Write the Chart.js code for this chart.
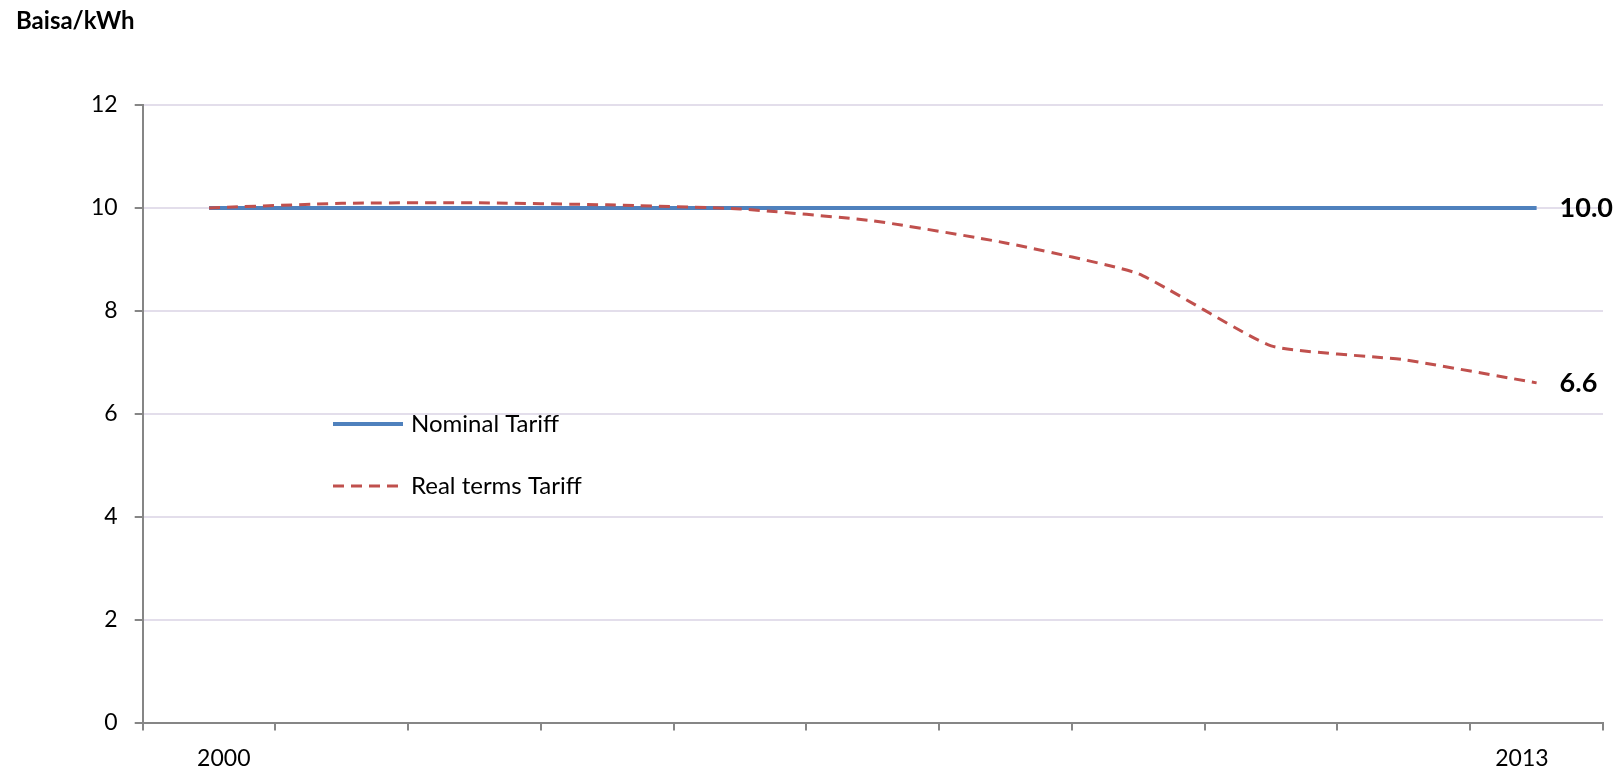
<!DOCTYPE html>
<html>
<head>
<meta charset="utf-8">
<title>Baisa/kWh tariff</title>
<script src="https://cdn.jsdelivr.net/npm/chart.js@4"></script>
<style>
    html, body { margin: 0; padding: 0; background: #fff; }
    canvas { display: block; }
</style>
</head>
<body>
<canvas id="tariffChart" width="1623" height="773"></canvas>
<script>
// 数据
const categories = ['2000', '', '', '', '', '', '', '', '', '', '2013'];
const nominalTariff = [10, 10, 10, 10, 10, 10, 10, 10, 10, 10, 10];
const realTariff = [10.0, 10.09, 10.10, 10.06, 9.98, 9.75, 9.32, 8.72, 7.32, 7.05, 6.6];
const yTicks = [0, 2, 4, 6, 8, 10, 12];

const FONT = 'Lato, "Open Sans", sans-serif';
const AXIS_GREY = '#868686';
const GRID = '#E3DEEB';

// 图内图例 + 末端数值 + 单位标题
const annotate = {
    id: 'annotate',
    afterDatasetsDraw(chart) {
        const ctx = chart.ctx;
        ctx.save();

        // 单位
        ctx.fillStyle = '#000';
        ctx.font = 'bold 24px ' + FONT;
        ctx.textAlign = 'left';
        ctx.textBaseline = 'middle';
        ctx.fillText('Baisa/kWh', 16, 21);

        // 末端数值
        ctx.font = 'bold 27px ' + FONT;
        chart.data.datasets.forEach((ds, i) => {
            const meta = chart.getDatasetMeta(i);
            const last = meta.data[meta.data.length - 1];
            const v = ds.data[ds.data.length - 1];
            ctx.fillText(v.toFixed(1), last.x + 23, last.y);
        });

        // 图例
        ctx.font = '24px ' + FONT;
        chart.data.datasets.forEach((ds, i) => {
            const y = 424 + i * 62;
            ctx.beginPath();
            ctx.strokeStyle = ds.borderColor;
            ctx.lineWidth = ds.borderWidth;
            ctx.setLineDash(ds.borderDash || []);
            ctx.moveTo(333, y);
            ctx.lineTo(403, y);
            ctx.stroke();
            ctx.setLineDash([]);
            ctx.fillStyle = '#000';
            ctx.fillText(ds.label, 411, y);
        });
        ctx.restore();
    }
};

new Chart(document.getElementById('tariffChart').getContext('2d'), {
    type: 'line',
    data: {
        labels: categories,
        datasets: [
            {
                label: 'Nominal Tariff',
                data: nominalTariff,
                borderColor: '#4F81BD',
                borderWidth: 4,
                pointRadius: 0,
                tension: 0,
                order: 2
            },
            {
                label: 'Real terms Tariff',
                data: realTariff,
                borderColor: '#C0504D',
                borderWidth: 3,
                borderDash: [11, 7],
                pointRadius: 0,
                tension: 0.15,
                order: 1
            }
        ]
    },
    options: {
        responsive: false,
        animation: false,
        devicePixelRatio: 1,
        layout: {
            padding: { top: 105, right: 20, bottom: 0, left: 0 }
        },
        plugins: {
            legend: { display: false },
            tooltip: { enabled: false }
        },
        scales: {
            x: {
                offset: true,
                afterFit: (scale) => { scale.height = 50.5; },
                border: { color: AXIS_GREY, width: 2 },
                grid: {
                    offset: true,
                    drawOnChartArea: false,
                    tickLength: 8,
                    tickColor: AXIS_GREY,
                    lineWidth: 2
                },
                ticks: {
                    autoSkip: false,
                    maxRotation: 0,
                    padding: 14,
                    color: '#000',
                    font: { family: FONT, size: 23 },
                    callback: function (value, index) {
                        const label = categories[index];
                        if (index === 0) return '     ' + label;
                        if (index === categories.length - 1) return label + '     ';
                        return label;
                    }
                }
            },
            y: {
                min: 0,
                max: 12,
                afterFit: (scale) => { scale.width = 142.7; },
                afterBuildTicks: (scale) => {
                    scale.ticks = yTicks.map(v => ({ value: v }));
                },
                border: { color: AXIS_GREY, width: 2 },
                grid: {
                    color: (c) => (c.tick && c.tick.value === 0 ? 'rgba(0,0,0,0)' : GRID),
                    lineWidth: 2,
                    tickLength: 8,
                    tickColor: AXIS_GREY
                },
                ticks: {
                    padding: 17,
                    color: '#000',
                    font: { family: FONT, size: 23 }
                }
            }
        }
    },
    plugins: [annotate]
});
</script>
</body>
</html>
